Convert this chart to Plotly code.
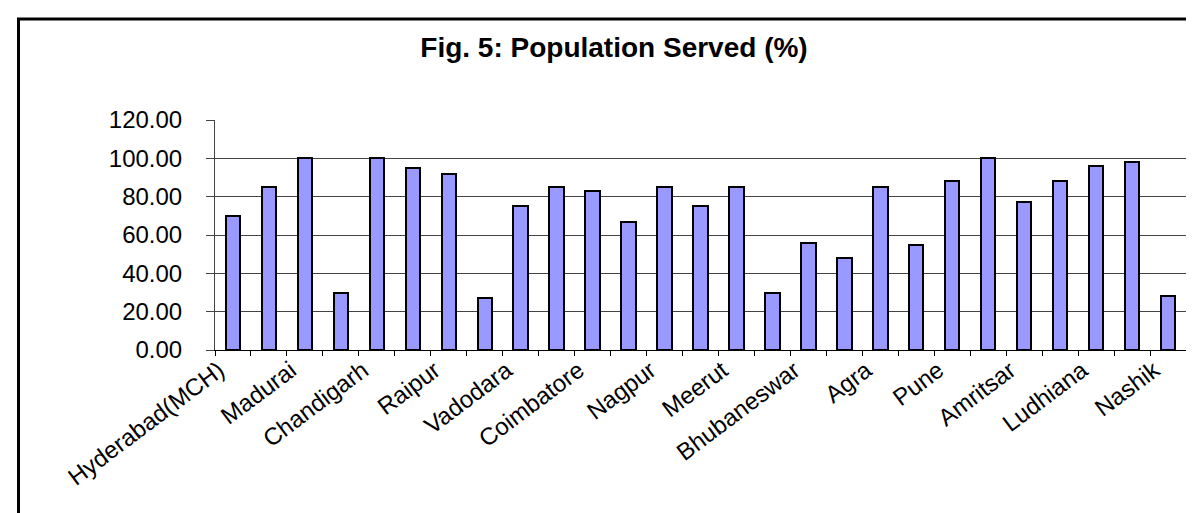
import plotly.graph_objects as go

cities = ["Hyderabad(MCH)", "", "Madurai", "", "Chandigarh", "", "Raipur", "",
          "Vadodara", "", "Coimbatore", "", "Nagpur", "", "Meerut", "",
          "Bhubaneswar", "", "Agra", "", "Pune", "", "Amritsar", "",
          "Ludhiana", "", "Nashik"]
served = [70, 85, 100, 30, 100, 95, 92, 27, 75, 85, 83, 67, 85, 75, 85, 30,
          56, 48, 85, 55, 88, 100, 77, 88, 96, 98, 28]
y_ticks = [0, 20, 40, 60, 80, 100, 120]
title_text = "Fig. 5: Population Served (%)"

n = len(served)
xs = list(range(n))
label_pos = [i for i in xs if cities[i]]
label_txt = [cities[i] for i in label_pos]

FONT = "Liberation Sans, Arial, sans-serif"

fig = go.Figure()
fig.add_trace(go.Bar(
    x=xs, y=served, width=0.40,
    marker=dict(color="#9999FF", line=dict(color="#000000", width=2)),
    hoverinfo="y",
))

W, H = 1194, 513
L, R, T, B = 207, 16, 112, 171
pw = W - L - R
ph = H - T - B

def px_x(v):
    return (v - L) / pw

def px_y(v):
    return (H - B - v) / ph

fig.update_layout(
    width=W, height=H,
    margin=dict(l=L, r=R, t=T, b=B, pad=0),
    paper_bgcolor="white", plot_bgcolor="white",
    showlegend=False, bargap=0,
    title=dict(text="<b>" + title_text + "</b>", x=606 / W, xref="container",
               xanchor="center", y=1 - 39 / H, yref="container", yanchor="middle",
               font=dict(family=FONT, size=28, color="black")),
    font=dict(family=FONT, color="black"),
    xaxis=dict(
        range=[-0.5, n - 0.5], tickmode="array", tickvals=label_pos, ticktext=label_txt,
        ticks="", tickangle=-37, tickfont=dict(size=24, family=FONT, color="black"),
        ticklabelstandoff=-4, ticklabelshift=-14,
        showgrid=False, zeroline=False, showline=True, linecolor="#000000", linewidth=1,
        minor=dict(tickmode="array", tickvals=[i - 0.5 for i in range(n + 1)],
                   ticks="outside", ticklen=5, tickcolor="#000000", tickwidth=1, showgrid=False),
    ),
    yaxis=dict(
        range=[0, 120], tickmode="array", tickvals=y_ticks, tickformat=".2f",
        ticks="outside", ticklen=8, tickcolor="#444444", tickwidth=1,
        tickfont=dict(size=24, family=FONT, color="black"), ticklabelstandoff=19,
        showgrid=True, gridcolor="#444444", gridwidth=1, zeroline=False,
        showline=True, linecolor="#444444", linewidth=1,
    ),
    shapes=[dict(type="rect", xref="paper", yref="paper",
                 x0=px_x(10.5), x1=px_x(1210), y0=px_y(11), y1=px_y(530),
                 line=dict(color="black", width=3), fillcolor="rgba(0,0,0,0)", layer="above")],
)

fig.write_html("out.html")
